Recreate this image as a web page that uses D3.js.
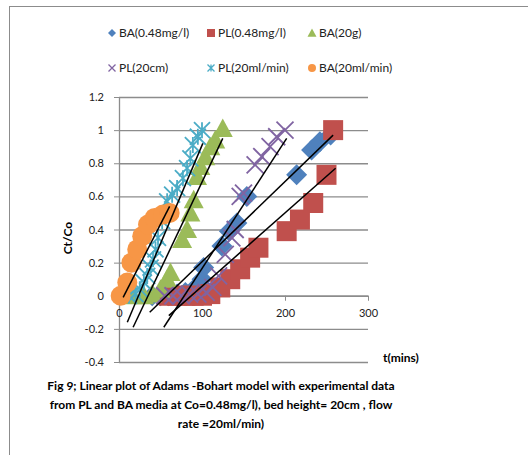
<!DOCTYPE html>
<html>
<head>
<meta charset="utf-8">
<script src="https://cdn.jsdelivr.net/npm/d3@7"></script>
<style>
body { margin: 0; background: #fff; }
text { font-family: Lato, "Liberation Sans", sans-serif; }
</style>
</head>
<body>
<div id="chart"></div>
<script>
// data (t in mins, Ct/Co)
var seriesNames = ["BA(0.48mg/l)", "PL(0.48mg/l)", "BA(20g)", "PL(20cm)", "PL(20ml/min)", "BA(20ml/min)"];

var baMgT = [40, 50, 60, 70, 80, 90, 100, 102, 124, 133, 142, 154, 214, 232, 242, 255];
var baMgV = [0, 0, 0, 0.01, 0.02, 0.04, 0.1, 0.17, 0.3, 0.39, 0.44, 0.6, 0.73, 0.88, 0.93, 0.97];

var plMgT = [60, 70, 80, 90, 100, 110, 122, 134, 146, 158, 168, 202, 218, 234, 250, 258];
var plMgV = [0, 0, 0, 0, 0, 0.01, 0.05, 0.1, 0.16, 0.23, 0.29, 0.39, 0.46, 0.56, 0.73, 1.0];

var baGT = [17, 30, 40, 50, 58, 62, 76, 82, 86, 90, 94, 98, 104, 110, 116, 125];
var baGV = [0, 0, 0.01, 0.04, 0.1, 0.14, 0.34, 0.4, 0.5, 0.58, 0.72, 0.78, 0.84, 0.9, 0.94, 1.01];

var plCmT = [55, 65, 75, 85, 95, 105, 113, 120, 128, 136, 140, 146, 150, 164, 172, 182, 190, 200];
var plCmV = [0, 0, 0, 0.01, 0.01, 0.02, 0.05, 0.12, 0.25, 0.35, 0.4, 0.6, 0.62, 0.79, 0.84, 0.9, 0.96, 1.0];

var plFlT = [12, 20, 25, 30, 34, 38, 41, 44, 47, 52, 58, 64, 70, 77, 82, 86, 89, 95, 100];
var plFlV = [0, 0.01, 0.04, 0.08, 0.12, 0.17, 0.22, 0.28, 0.35, 0.45, 0.57, 0.61, 0.65, 0.71, 0.77, 0.83, 0.91, 0.96, 1.0];

var baFlT = [2, 10, 15, 22, 28, 35, 43, 53, 61];
var baFlV = [0, 0.08, 0.2, 0.28, 0.36, 0.43, 0.47, 0.49, 0.5];

// linear trendlines: [t start, Ct/Co start, t end, Ct/Co end]
var fitBaMg = [37, -0.1, 258, 0.97];
var fitPlMg = [60, -0.12, 261, 0.77];
var fitBaG = [17, -0.19, 125, 0.95];
var fitPlCm = [54, -0.19, 202, 0.95];
var fitPlFl = [10, -0.16, 101, 0.92];
var fitBaFl = [5, -0.01, 61, 0.54];

var xTicks = [0, 100, 200, 300];
var yTicks = [-0.4, -0.2, 0, 0.2, 0.4, 0.6, 0.8, 1, 1.2];

var caption = ["Fig 9; Linear plot of Adams -Bohart model with experimental data",
               "from PL and BA media at Co=0.48mg/l), bed height= 20cm , flow",
               "rate =20ml/min)"];

var series = [
  {name: seriesNames[0], t: baMgT, v: baMgV, fit: fitBaMg, color: "#4F81BD", shape: "diamond"},
  {name: seriesNames[1], t: plMgT, v: plMgV, fit: fitPlMg, color: "#C0504D", shape: "square"},
  {name: seriesNames[2], t: baGT, v: baGV, fit: fitBaG, color: "#9BBB59", shape: "triangle"},
  {name: seriesNames[3], t: plCmT, v: plCmV, fit: fitPlCm, color: "#8064A2", shape: "x"},
  {name: seriesNames[4], t: plFlT, v: plFlV, fit: fitPlFl, color: "#4BACC6", shape: "star"},
  {name: seriesNames[5], t: baFlT, v: baFlV, fit: fitBaFl, color: "#F79646", shape: "circle"}
];

var svg = d3.select("#chart").append("svg")
    .attr("width", 528)
    .attr("height", 455);

// chart area border (only top and left are inside the picture)
svg.append("rect")
    .attr("x", 9.5).attr("y", 6.5)
    .attr("width", 700).attr("height", 700)
    .attr("fill", "none")
    .attr("stroke", "#8c8c8c");

var x = d3.scaleLinear().domain([0, 300]).range([119, 368]);
var y = d3.scaleLinear().domain([-0.4, 1.2]).range([362, 97]);

// marker shapes
function markerPath(shape, s) {
    if (shape == "diamond") return "M0," + (-s) + "L" + s + ",0L0," + s + "L" + (-s) + ",0Z";
    if (shape == "square") return "M" + (-s) + "," + (-s) + "h" + 2 * s + "v" + 2 * s + "h" + (-2 * s) + "Z";
    if (shape == "triangle") return "M0," + (-s) + "L" + s + "," + (s * 0.85) + "L" + (-s) + "," + (s * 0.85) + "Z";
    if (shape == "x") return "M" + (-s) + "," + (-s) + "L" + s + "," + s + "M" + (-s) + "," + s + "L" + s + "," + (-s);
    if (shape == "star") return "M" + (-s) + "," + (-s) + "L" + s + "," + s + "M" + (-s) + "," + s + "L" + s + "," + (-s) + "M0," + (-s) + "L0," + s;
    return d3.arc()({innerRadius: 0, outerRadius: s, startAngle: 0, endAngle: 2 * Math.PI});
}
function isLine(shape) { return shape == "x" || shape == "star"; }
var plotSize = {diamond: 10.5, square: 10, triangle: 10, x: 8.5, star: 8, circle: 10};
var legendSize = {diamond: 4, square: 4, triangle: 4.5, x: 3.5, star: 3.5, circle: 4};

// gridlines
svg.append("g")
    .attr("class", "grid")
    .attr("transform", "translate(" + x(0) + ",0)")
    .call(d3.axisLeft(y).tickValues(yTicks).tickSize(-(x(300) - x(0))).tickFormat(""))
    .call(g => g.select(".domain").remove())
    .call(g => g.selectAll("line").attr("stroke", "#8c8c8c").attr("stroke-width", 1.3));

// y axis
svg.append("g")
    .attr("transform", "translate(" + x(0) + ",0)")
    .call(d3.axisLeft(y).tickValues(yTicks).tickSize(5).tickSizeOuter(0).tickPadding(10)
        .tickFormat(d => String(+d.toFixed(1))))
    .call(g => g.select(".domain").attr("stroke", "#8c8c8c").attr("stroke-width", 1.3))
    .call(g => g.selectAll("line").attr("stroke", "#8c8c8c"))
    .call(g => g.selectAll("text").attr("font-size", 11).attr("fill", "#222"));

// x axis through zero
svg.append("g")
    .attr("transform", "translate(0," + y(0) + ")")
    .call(d3.axisBottom(x).tickValues(xTicks).tickSize(5).tickSizeOuter(0).tickPadding(8))
    .call(g => g.select(".domain").attr("stroke", "#8c8c8c").attr("stroke-width", 1.3))
    .call(g => g.selectAll("line").attr("stroke", "#8c8c8c"))
    .call(g => g.selectAll("text").attr("font-size", 11).attr("fill", "#222"));

// data markers
series.forEach(function(s) {
    var pts = s.t.map((t, i) => [t, s.v[i]]);
    svg.append("g").selectAll("path")
        .data(pts)
        .enter()
        .append("path")
        .attr("transform", d => "translate(" + x(d[0]) + "," + y(d[1]) + ")")
        .attr("d", markerPath(s.shape, plotSize[s.shape]))
        .attr("fill", isLine(s.shape) ? "none" : s.color)
        .attr("stroke", s.color)
        .attr("stroke-width", isLine(s.shape) ? 1.8 : 0);
});

// trendlines
series.forEach(function(s) {
    svg.append("line")
        .attr("x1", x(s.fit[0])).attr("y1", y(s.fit[1]))
        .attr("x2", x(s.fit[2])).attr("y2", y(s.fit[3]))
        .attr("stroke", "#000")
        .attr("stroke-width", 1.5);
});

// legend
var legendX = [112, 211, 312];
var legendY = [33, 68];
series.forEach(function(s, i) {
    var lx = legendX[i % 3], ly = legendY[Math.floor(i / 3)];
    svg.append("path")
        .attr("transform", "translate(" + lx + "," + ly + ")")
        .attr("d", markerPath(s.shape, legendSize[s.shape]))
        .attr("fill", isLine(s.shape) ? "none" : s.color)
        .attr("stroke", s.color)
        .attr("stroke-width", isLine(s.shape) ? 1.3 : 0);
    svg.append("text")
        .attr("x", lx + 7).attr("y", ly + 4)
        .attr("font-size", 12)
        .attr("fill", "#222")
        .text(s.name);
});

// axis titles
svg.append("text")
    .attr("transform", "translate(72,238) rotate(-90)")
    .attr("text-anchor", "middle")
    .attr("font-size", 12)
    .attr("font-weight", "bold")
    .text("Ct/Co");

svg.append("text")
    .attr("x", 383).attr("y", 362)
    .attr("font-size", 12)
    .attr("font-weight", "bold")
    .text("t(mins)");

// caption
svg.selectAll(".caption")
    .data(caption)
    .enter()
    .append("text")
    .attr("class", "caption")
    .attr("x", 221)
    .attr("y", (d, i) => 390 + i * 19)
    .attr("text-anchor", "middle")
    .attr("font-size", 12)
    .attr("font-weight", "bold")
    .text(d => d);
</script>
</body>
</html>
